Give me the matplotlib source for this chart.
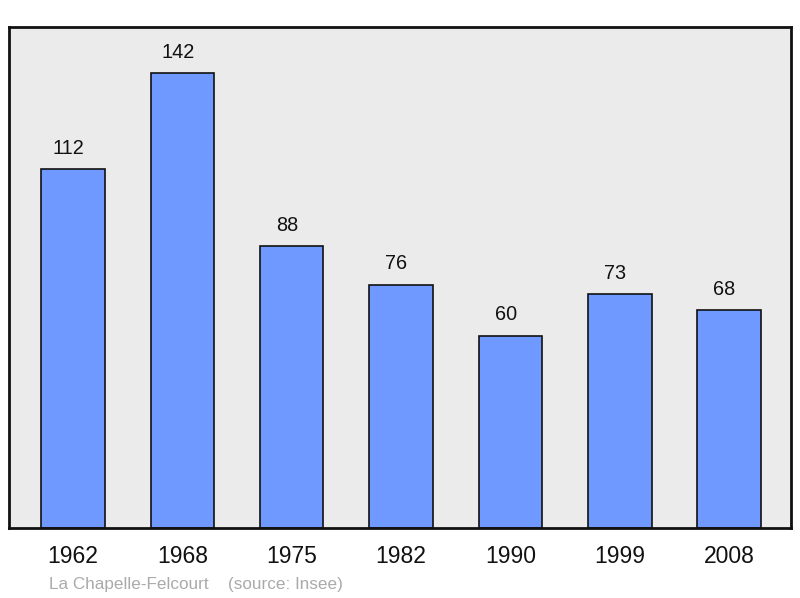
import matplotlib
matplotlib.use("Agg")
import matplotlib.pyplot as plt

years = ["1962", "1968", "1975", "1982", "1990", "1999", "2008"]
population = [112, 142, 88, 76, 60, 73, 68]
title_text = "La Chapelle-Felcourt"
source_text = "(source: Insee)"

plt.rcParams['font.family'] = ['Liberation Sans', 'DejaVu Sans']

fig = plt.figure(figsize=(8, 5.98), dpi=100)
ax = fig.add_axes([9/800, 1-528/598, 782/800, 501/598])
ax.set_facecolor("#ebebeb")
x = list(range(len(years)))
bars = ax.bar(x, population, width=0.58, color="#7099ff", edgecolor="#111111", linewidth=1.2, zorder=2)
ax.set_xlim(-0.585, 6.565)
ax.set_ylim(0, 156.4)
for xi, v in zip(x, population):
    ax.annotate(str(v), (xi, v), xytext=(-3.4, 15), textcoords="offset points",
                ha="center", va="center", fontsize=14.3, color="#111111")
ax.set_xticks(x)
ax.set_xticklabels(years, fontsize=16.5, color="#111111")
ax.tick_params(axis="x", length=0, pad=12)
ax.set_yticks([])
for s in ax.spines.values():
    s.set_linewidth(2)
    s.set_color("#111111")
fig.text(49/800, 1-584/598, title_text, fontsize=12.3, color="#aaaaaa", ha="left", va="center")
fig.text(228/800, 1-584/598, source_text, fontsize=12.3, color="#aaaaaa", ha="left", va="center")
fig.savefig("out.png", dpi=100)
